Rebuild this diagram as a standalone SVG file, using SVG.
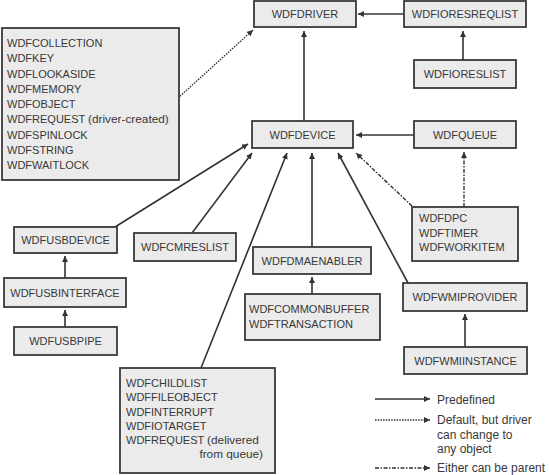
<svg xmlns="http://www.w3.org/2000/svg" width="549" height="475" viewBox="0 0 549 475">
<style>
.box{fill:#ebebeb;stroke:#3a3a3a;stroke-width:1.8}
text{font-family:"Liberation Sans",Arial,sans-serif;font-size:11px;fill:#383838}
.c{text-anchor:middle}
.lg{font-size:12px}
.lw{font-size:11.8px}
.ln{stroke:#333;stroke-width:1.6;fill:none;marker-end:url(#ah)}
.dot{stroke-dasharray:1.5 1.2;stroke-width:1.4}
.dd{stroke-dasharray:4 1.5 1.5 1.5;stroke-width:1.4}
</style>
<defs>
<marker id="ah" viewBox="0 0 6 6" refX="6" refY="3" markerWidth="6" markerHeight="6" markerUnits="userSpaceOnUse" orient="auto">
<path d="M0,0 L6,3 L0,6 z" fill="#333"/>
</marker>
</defs>
<rect width="549" height="475" fill="#fff"/>
<g id="connectors">
<line class="ln" x1="404" y1="14" x2="358" y2="14"/>
<line class="ln" x1="463" y1="60" x2="463" y2="31"/>
<line class="ln" x1="304" y1="121" x2="304" y2="31"/>
<line class="ln" x1="414" y1="135" x2="356" y2="135"/>
<line class="ln dot" x1="178" y1="98" x2="253" y2="30"/>
<line class="ln dd" x1="464" y1="207" x2="464" y2="152"/>
<line class="ln dd" x1="412" y1="206" x2="356" y2="153"/>
<line class="ln" x1="115" y1="227" x2="248" y2="144"/>
<line class="ln" x1="192" y1="233" x2="252" y2="153"/>
<line class="ln" x1="201" y1="368" x2="287" y2="153"/>
<line class="ln" x1="312" y1="247" x2="312" y2="153"/>
<line class="ln" x1="408" y1="283" x2="338" y2="153"/>
<line class="ln" x1="65" y1="278" x2="65" y2="256"/>
<line class="ln" x1="65" y1="327" x2="65" y2="310"/>
<line class="ln" x1="312" y1="294" x2="312" y2="277"/>
<line class="ln" x1="465" y1="347" x2="465" y2="314"/>
</g>
<g id="driver"><rect class="box" x="254" y="1" width="102" height="26"/><text class="c" x="305" y="18">WDFDRIVER</text></g>
<g id="ioresreqlist"><rect class="box" x="404" y="1" width="122" height="26"/><text class="c" x="465" y="18">WDFIORESREQLIST</text></g>
<g id="ioreslist"><rect class="box" x="414" y="60" width="102" height="28"/><text class="c" x="465" y="78">WDFIORESLIST</text></g>
<g id="device"><rect class="box" x="252" y="121" width="101" height="27"/><text class="c" x="302.5" y="139">WDFDEVICE</text></g>
<g id="queue"><rect class="box" x="414" y="121" width="102" height="27"/><text class="c" x="465" y="139">WDFQUEUE</text></g>
<g id="general">
<rect class="box" x="2" y="28" width="177" height="152"/>
<text x="7" y="47">WDFCOLLECTION</text>
<text x="7" y="62.3">WDFKEY</text>
<text x="7" y="77.5">WDFLOOKASIDE</text>
<text x="7" y="92.8">WDFMEMORY</text>
<text x="7" y="108">WDFOBJECT</text>
<text x="7" y="123.3">WDFREQUEST <tspan class="lw">(driver-created)</tspan></text>
<text x="7" y="138.5">WDFSPINLOCK</text>
<text x="7" y="153.8">WDFSTRING</text>
<text x="7" y="169">WDFWAITLOCK</text>
</g>
<g id="usbdevice"><rect class="box" x="14" y="227" width="103" height="26"/><text class="c" x="65.5" y="244">WDFUSBDEVICE</text></g>
<g id="cmreslist"><rect class="box" x="134" y="233" width="102" height="28"/><text class="c" x="185" y="251">WDFCMRESLIST</text></g>
<g id="usbinterface"><rect class="box" x="4" y="278" width="122" height="29"/><text class="c" x="65" y="296.5">WDFUSBINTERFACE</text></g>
<g id="usbpipe"><rect class="box" x="14" y="327" width="103" height="28"/><text class="c" x="65.5" y="345">WDFUSBPIPE</text></g>
<g id="dmaenabler"><rect class="box" x="253" y="247" width="118" height="27"/><text class="c" x="312" y="265">WDFDMAENABLER</text></g>
<g id="commonbuffer">
<rect class="box" x="245" y="294" width="135" height="46"/>
<text x="249" y="313">WDFCOMMONBUFFER</text>
<text x="249" y="328">WDFTRANSACTION</text>
</g>
<g id="dpc">
<rect class="box" x="412" y="207" width="106" height="54"/>
<text x="419" y="222">WDFDPC</text>
<text x="419" y="236.5">WDFTIMER</text>
<text x="419" y="251">WDFWORKITEM</text>
</g>
<g id="wmiprovider"><rect class="box" x="403" y="283" width="124" height="28"/><text class="c" x="465" y="301">WDFWMIPROVIDER</text></g>
<g id="wmiinstance"><rect class="box" x="404" y="347" width="123" height="27"/><text class="c" x="465.5" y="365">WDFWMIINSTANCE</text></g>
<g id="childlist">
<rect class="box" x="120" y="368" width="155" height="105"/>
<text x="126" y="387">WDFCHILDLIST</text>
<text x="126" y="401">WDFFILEOBJECT</text>
<text x="126" y="416">WDFINTERRUPT</text>
<text x="126" y="430">WDFIOTARGET</text>
<text x="126" y="444">WDFREQUEST <tspan class="lw">(delivered</tspan></text>
<text class="lw" x="263" y="458" text-anchor="end">from queue)</text>
</g>
<g id="legend">
<line class="ln" x1="375" y1="399" x2="430" y2="399"/>
<line class="ln dot" x1="375" y1="420" x2="430" y2="420"/>
<line class="ln dd" x1="375" y1="468" x2="430" y2="468"/>
<text class="lg" x="437" y="403.5">Predefined</text>
<text class="lg" x="437" y="424">Default, but driver</text>
<text class="lg" x="437" y="438.5">can change to</text>
<text class="lg" x="437" y="453">any object</text>
<text class="lg" x="437" y="472">Either can be parent</text>
</g>
</svg>
